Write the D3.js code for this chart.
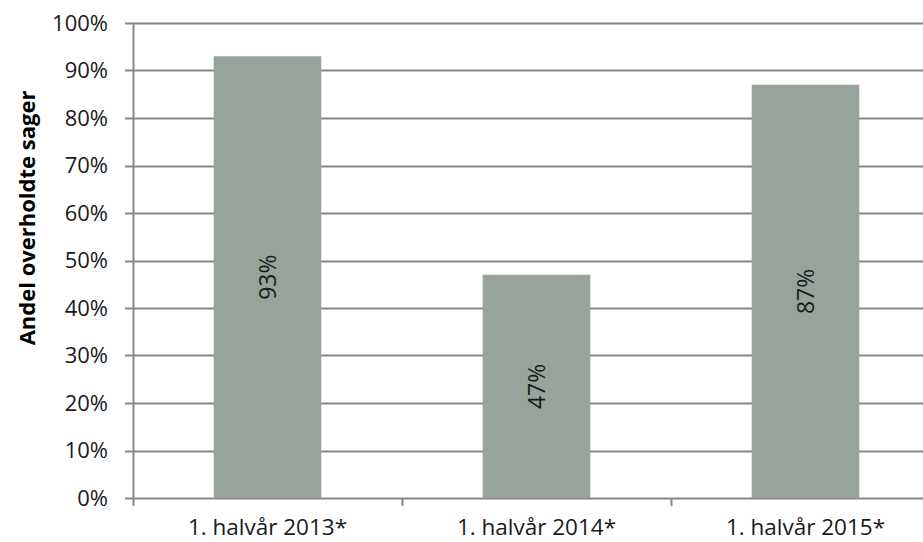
<!DOCTYPE html>
<html>
<head>
<meta charset="utf-8">
<script src="https://cdn.jsdelivr.net/npm/d3@7"></script>
<style>
  body { margin: 0; background: #fff; }
  svg { display: block; font-family: "Open Sans", "Noto Sans", sans-serif; }
</style>
</head>
<body>
<div id="chart"></div>
<script>
// chart data
const categories = ["1. halvår 2013*", "1. halvår 2014*", "1. halvår 2015*"];
const values = [0.93, 0.47, 0.87];
const yTicks = [0, 0.1, 0.2, 0.3, 0.4, 0.5, 0.6, 0.7, 0.8, 0.9, 1.0];

const width = 923, height = 542;

const svg = d3.select("#chart").append("svg")
    .attr("width", width)
    .attr("height", height);

// plot runs past the right edge, like the original
const x = d3.scaleBand()
    .domain(categories)
    .range([133, 940])
    .paddingInner(0.6)
    .paddingOuter(0.3);

const y = d3.scaleLinear()
    .domain([0, 1])
    .range([498, 23]);

const gridColor = "#878787";
const textColor = "#1a1a1a";

// gridlines
svg.append("g")
  .selectAll("line")
  .data(yTicks)
  .join("line")
    .attr("x1", 125)
    .attr("x2", width)
    .attr("y1", d => Math.round(y(d)) + 0.5)
    .attr("y2", d => Math.round(y(d)) + 0.5)
    .attr("stroke", gridColor)
    .attr("stroke-width", 2);

// y tick labels
svg.append("g")
    .attr("text-anchor", "end")
    .attr("font-size", 22)
    .attr("fill", textColor)
  .selectAll("text")
  .data(yTicks)
  .join("text")
    .attr("x", 108)
    .attr("y", d => y(d))
    .attr("dy", "0.36em")
    .text(d => d3.format(".0%")(d));

// bars
svg.append("g")
  .selectAll("rect")
  .data(values)
  .join("rect")
    .attr("x", (d, i) => x(categories[i]))
    .attr("width", x.bandwidth())
    .attr("y", d => y(d))
    .attr("height", d => y(0) - y(d))
    .attr("fill", "#97a39b");

// y axis line
svg.append("line")
    .attr("x1", 133.5).attr("x2", 133.5)
    .attr("y1", y(1)).attr("y2", y(0))
    .attr("stroke", gridColor)
    .attr("stroke-width", 2);

// x axis tick marks at category boundaries
const bounds = [133, 133 + x.step(), 133 + 2 * x.step()];
svg.append("g")
  .selectAll("line")
  .data(bounds)
  .join("line")
    .attr("x1", d => Math.round(d) + 0.5)
    .attr("x2", d => Math.round(d) + 0.5)
    .attr("y1", y(0))
    .attr("y2", y(0) + 8)
    .attr("stroke", gridColor)
    .attr("stroke-width", 2);

// bar value labels (rotated, reading upward)
svg.append("g")
    .attr("text-anchor", "middle")
    .attr("font-size", 23)
    .attr("fill", textColor)
  .selectAll("text")
  .data(values)
  .join("text")
    .attr("transform", (d, i) => `translate(${x(categories[i]) + x.bandwidth() / 2},${y(d / 2)}) rotate(-90)`)
    .attr("dy", "0.36em")
    .text(d => d3.format(".0%")(d));

// x labels
svg.append("g")
    .attr("text-anchor", "middle")
    .attr("font-size", 22.5)
    .attr("fill", textColor)
  .selectAll("text")
  .data(categories)
  .join("text")
    .attr("x", d => x(d) + x.bandwidth() / 2)
    .attr("y", 535)
    .text(d => d);

// y axis title
svg.append("text")
    .attr("transform", "translate(35,218) rotate(-90)")
    .attr("text-anchor", "middle")
    .attr("font-size", 22)
    .attr("font-weight", "bold")
    .attr("fill", "#000")
    .text("Andel overholdte sager");
</script>
</body>
</html>
